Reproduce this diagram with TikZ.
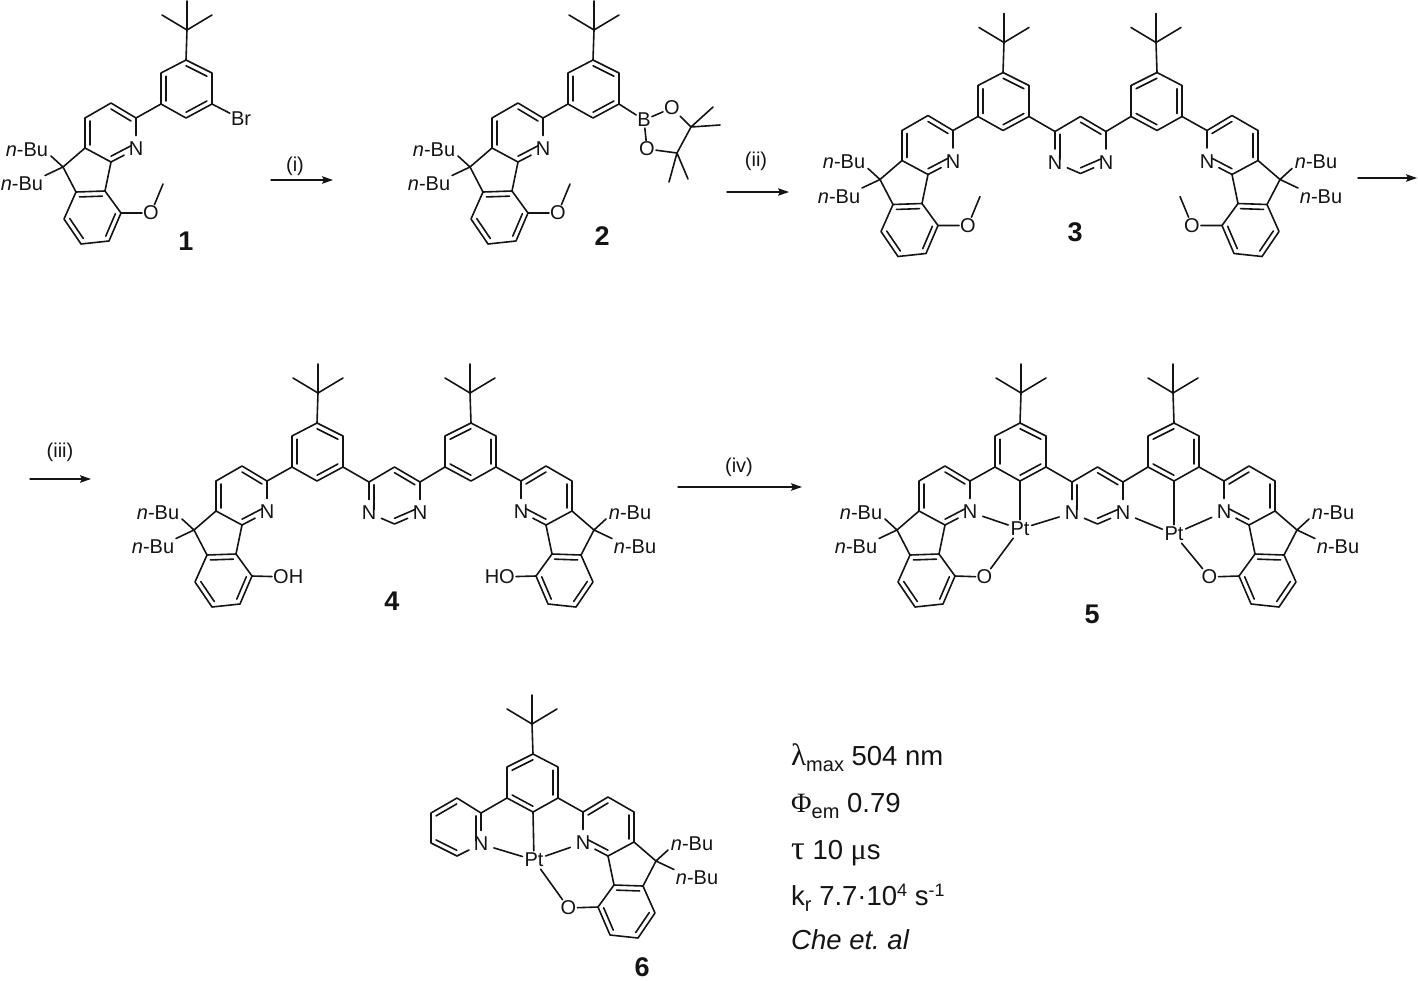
\documentclass[tikz,border=0pt]{standalone}
\usepackage{fontspec}
\setmainfont{Liberation Sans}
\newfontfamily\grk{Liberation Serif}
\usetikzlibrary{calc,arrows.meta}
\definecolor{ink}{HTML}{141414}
\tikzset{
  bond/.style={draw=ink, line width=1.6pt},
  atom/.style={text=ink, inner sep=1pt, font=\fontsize{20}{22}\selectfont},
  het/.style={atom, circle, inner sep=2.3pt},
  metal/.style={atom, inner sep=2pt},
  num/.style={text=ink, font=\fontsize{27}{27}\bfseries\selectfont, inner sep=0pt},
  rxn/.style={draw=ink, line width=1.4pt, -{Stealth[length=11pt,width=7.5pt,inset=2pt]}},
  cond/.style={text=ink, font=\fontsize{20}{22}\selectfont},
  data/.style={text=ink, anchor=base west, inner sep=0pt, font=\fontsize{27.5}{29}\selectfont}
}
\newcommand{\inbond}[3]{\draw[bond] ($(#1)!0.2!(#3)$) -- ($(#2)!0.2!(#3)$);}
\newcommand{\lowtext}[1]{\raisebox{-6pt}{\fontsize{20}{21}\selectfont #1}}
\newcommand{\hightext}[1]{\raisebox{9pt}{\fontsize{18}{19}\selectfont #1}}
\newcommand{\grksym}[2]{{\grk\fontsize{#1}{#1}\selectfont #2}}
% one arm: tert-butylphenyl and the ring-fused pyridine, #5 adds the oxygen side
\newcommand{\arm}[5]{
  \begin{scope}[shift={(#2,#3)}, xscale=#4]
    \coordinate (#1tc) at (187,30);
    \coordinate (#1t1) at (187,1);
    \coordinate (#1t2) at (162,15);
    \coordinate (#1t3) at (212,15);
    \coordinate (#1pa) at (186,60);
    \coordinate (#1pb) at (212,73);
    \coordinate (#1pc) at (212,104);
    \coordinate (#1pd) at (186,118);
    \coordinate (#1pe) at (161,104);
    \coordinate (#1pf) at (161,73);
    \coordinate (#1pm) at (186.5,89);
    \coordinate (#1c2) at (136,118);
    \coordinate (#1c3) at (111,103);
    \coordinate (#1c4) at (85,118);
    \coordinate (#1c5) at (85,148);
    \coordinate (#1c6) at (111,162);
    \coordinate (#1ym) at (111,133);
    \coordinate (#1qc) at (63,167);
    \coordinate (#1ba) at (76,192);
    \coordinate (#1bb) at (105,191);
    \coordinate (#1bc) at (121,213);
    \coordinate (#1bd) at (109,241);
    \coordinate (#1be) at (81,244);
    \coordinate (#1bf) at (64,219);
    \coordinate (#1bm) at (92.7,216.7);
    \coordinate (#1u1) at (51,156);
    \coordinate (#1u2) at (45,175.5);
    \node[het] (#1N) at (136,149) {N};
    \node[atom] (#1bu1) at (27,149.5) {\textit{n}-Bu};
    \node[atom] (#1bu2) at (22,184) {\textit{n}-Bu};
    \draw[bond] (#1tc)--(#1t1) (#1tc)--(#1t2) (#1tc)--(#1t3) (#1tc)--(#1pa);
    \draw[bond] (#1pa)--(#1pb)--(#1pc)--(#1pd)--(#1pe)--(#1pf)--cycle;
    \inbond{#1pa}{#1pb}{#1pm}
    \inbond{#1pc}{#1pd}{#1pm}
    \inbond{#1pe}{#1pf}{#1pm}
    \draw[bond] (#1pe)--(#1c2)--(#1c3)--(#1c4)--(#1c5)--(#1c6);
    \draw[bond] (#1c2)--(#1N) (#1c6)--(#1N);
    \inbond{#1c2}{#1c3}{#1ym}
    \inbond{#1c4}{#1c5}{#1ym}
    \inbond{#1c6}{#1N}{#1ym}
    \draw[bond] (#1c5)--(#1qc)--(#1ba) (#1bb)--(#1c6);
    \draw[bond] (#1qc)--(#1u1) (#1qc)--(#1u2);
    \draw[bond] (#1ba)--(#1bb)--(#1bc)--(#1bd)--(#1be)--(#1bf)--cycle;
    \inbond{#1ba}{#1bb}{#1bm}
    \inbond{#1bc}{#1bd}{#1bm}
    \inbond{#1be}{#1bf}{#1bm}
    #5
  \end{scope}
}
\newcommand{\ome}[1]{
  \node[atom] (#1O) at (151,213) {O};
  \coordinate (#1me) at (163,184);
  \draw[bond] (#1bc)--(#1O) (#1O)--(#1me);
}
\newcommand{\oxo}[1]{
  \node[atom] (#1O) at (150.5,214) {O};
  \draw[bond] (#1bc)--(#1O);
}
% pyrimidine between two arms, same shift as the left arm
\newcommand{\pyrim}[3]{
  \begin{scope}[shift={(#2,#3)}]
    \coordinate (#1c4) at (238,119);
    \coordinate (#1c5) at (263.5,104);
    \coordinate (#1c6) at (289,119);
    \coordinate (#1c2) at (263.5,161);
    \coordinate (#1m) at (263.5,132.5);
    \node[het] (#1n3) at (238,150) {N};
    \node[het] (#1n1) at (289,150) {N};
    \draw[bond] (#1c4)--(#1c5)--(#1c6);
    \draw[bond] (#1c4)--(#1n3) (#1n3)--(#1c2) (#1c2)--(#1n1) (#1n1)--(#1c6);
    \inbond{#1c4}{#1n3}{#1m}
    \inbond{#1c5}{#1c6}{#1m}
    \inbond{#1c2}{#1n1}{#1m}
  \end{scope}
}
\begin{document}
\begin{tikzpicture}[x=1pt, y=-1pt, line cap=round, line join=round]
  \useasboundingbox (0,0) rectangle (1418,980);

  % compound 1
  \arm{a}{0}{0}{1}{\ome{a}}
  \node[atom] (aBr) at (241,119) {Br};
  \draw[bond] (apc)--(aBr);
  \node[num] (num1) at (186,241) {1};

  % compound 2
  \arm{b}{407}{0}{1}{\ome{b}}
  \node[atom] (bB) at (644,120) {B};
  \node[atom] (bOu) at (672,108) {O};
  \node[atom] (bOd) at (647,149) {O};
  \coordinate (bCu) at (691,127);
  \coordinate (bCd) at (677,153);
  \coordinate (bM1) at (713,107);
  \coordinate (bM2) at (720,125);
  \coordinate (bM3) at (669,182);
  \coordinate (bM4) at (688,179);
  \draw[bond] (bpc)--(bB) (bB)--(bOu) (bB)--(bOd);
  \draw[bond] (bOu)--(bCu)--(bCd)--(bOd);
  \draw[bond] (bCu)--(bM1) (bCu)--(bM2) (bCd)--(bM3) (bCd)--(bM4);
  \node[num] (num2) at (602,236) {2};

  % compound 3
  \arm{c}{817}{12.5}{1}{\ome{c}}
  \arm{d}{1343}{12.5}{-1}{\ome{d}}
  \pyrim{e}{817}{12.5}
  \draw[bond] (cpc)--(ec4) (dpc)--(ec6);
  \node[num] (num3) at (1075,232) {3};

  % compound 4
  \arm{f}{131}{363}{1}{}
  \arm{g}{657}{363}{-1}{}
  \pyrim{h}{131}{363}
  \draw[bond] (fpc)--(hc4) (gpc)--(hc6);
  \node[atom, anchor=west] (hOHa) at (272,577) {OH};
  \node[atom, anchor=east] (hOHb) at (516,577) {HO};
  \draw[bond] (fbc)--(hOHa) (gbc)--(hOHb);
  \node[num] (num4) at (392,601) {4};

  % compound 5
  \arm{i}{834}{363}{1}{\oxo{i}}
  \arm{j}{1360}{363}{-1}{\oxo{j}}
  \pyrim{k}{834}{363}
  \draw[bond] (ipc)--(kc4) (jpc)--(kc6);
  \node[metal] (iPt) at (1020,529) {Pt};
  \node[metal] (jPt) at (1174,534) {Pt};
  \draw[bond] (ipd)--(iPt) (iN)--(iPt) (iPt)--(kn3) (iPt)--(iO);
  \draw[bond] (jpd)--(jPt) (jN)--(jPt) (jPt)--(kn1) (jPt)--(jO);
  \node[num] (num5) at (1092,614) {5};

  % compound 6
  \arm{l}{719}{694}{-1}{\oxo{l}}
  \coordinate (mc2) at (481,813);
  \coordinate (mc3) at (457,798);
  \coordinate (mc4) at (431,813);
  \coordinate (mc5) at (431,843);
  \coordinate (mc6) at (457,856);
  \coordinate (mm) at (456,827.5);
  \node[het] (mN) at (481,844) {N};
  \draw[bond] (lpc)--(mc2)--(mc3)--(mc4)--(mc5)--(mc6);
  \draw[bond] (mc2)--(mN) (mc6)--(mN);
  \inbond{mc2}{mN}{mm}
  \inbond{mc3}{mc4}{mm}
  \inbond{mc5}{mc6}{mm}
  \node[metal] (lPt) at (534,860) {Pt};
  \draw[bond] (lpd)--(lPt) (mN)--(lPt) (lN)--(lPt) (lPt)--(lO);
  \node[num] (num6) at (642,967.5) {6};

  % reaction arrows
  \coordinate (r1a) at (271,180);
  \coordinate (r1b) at (333,180);
  \coordinate (r2a) at (727,192);
  \coordinate (r2b) at (789,192);
  \coordinate (r3a) at (1358,178);
  \coordinate (r3b) at (1417,178);
  \coordinate (r4a) at (30,479);
  \coordinate (r4b) at (91,479);
  \coordinate (r5a) at (678,487);
  \coordinate (r5b) at (802,487);
  \draw[rxn] (r1a)--(r1b);
  \draw[rxn] (r2a)--(r2b);
  \draw[rxn] (r3a)--(r3b);
  \draw[rxn] (r4a)--(r4b);
  \draw[rxn] (r5a)--(r5b);
  \node[cond] (cond1) at (295,166) {(i)};
  \node[cond] (cond2) at (756,161) {(ii)};
  \node[cond] (cond3) at (60,452) {(iii)};
  \node[cond] (cond4) at (739,467) {(iv)};

  % photophysical data
  \node[data] (d1) at (791,765) {\grksym{31}{λ}\lowtext{max} 504 nm};
  \node[data] (d2) at (791,812) {\grksym{28}{Φ}\lowtext{em} 0.79};
  \node[data] (d3) at (791,859) {\grksym{34}{τ} 10 \grksym{30}{μ}s};
  \node[data] (d4) at (791,905) {k\lowtext{r} 7.7·10\hightext{4} s\hightext{-1}};
  \node[data] (d5) at (791,949) {\frenchspacing\textit{Che et. al}};
\end{tikzpicture}
\end{document}
